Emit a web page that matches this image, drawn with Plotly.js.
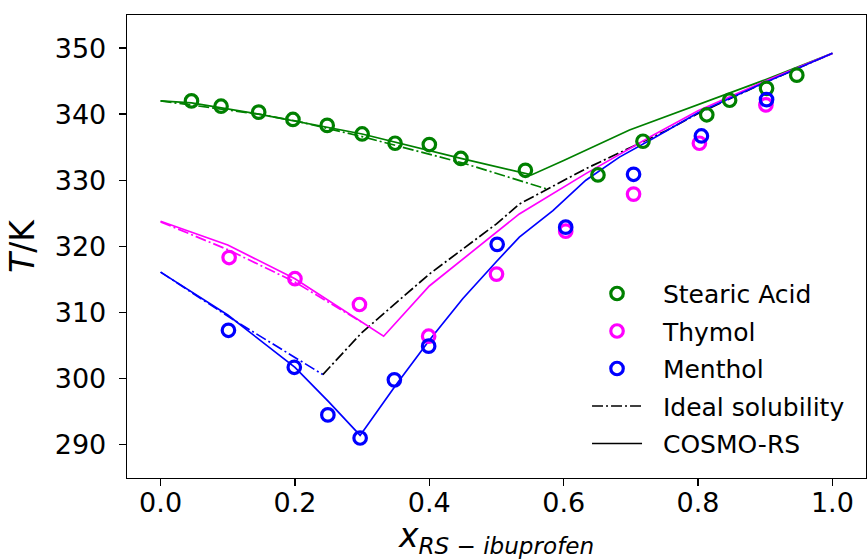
<!DOCTYPE html>
<html>
<head>
<meta charset="utf-8">
<script src="https://cdn.plot.ly/plotly-3.0.1.min.js"></script>
<style>html,body{margin:0;padding:0;background:#fff;}#chart{width:867px;height:559px;}</style>
</head>
<body>
<div id="chart"></div>
<script>
// Experimental data
const xStearic = [0.046,0.090,0.146,0.197,0.248,0.300,0.349,0.400,0.447,0.543,0.651,0.718,0.813,0.847,0.902,0.947];
const yStearic = [342.0,341.2,340.3,339.2,338.3,337.0,335.6,335.4,333.3,331.5,330.8,335.9,339.9,342.1,343.9,345.9];
const xThymol = [0.102,0.200,0.296,0.399,0.500,0.603,0.704,0.802,0.901];
const yThymol = [318.3,315.1,311.2,306.4,315.8,322.3,327.9,335.6,341.4];
const xMenthol = [0.101,0.199,0.249,0.297,0.348,0.399,0.501,0.603,0.704,0.805,0.902];
const yMenthol = [307.3,301.7,294.5,291.0,299.8,304.9,320.3,322.9,330.9,336.7,342.2];

// COSMO-RS curves
const xCosmoStearic = [0,0.046,0.146,0.300,0.447,0.543,0.552,0.600,0.698,0.900,1.0];
const yCosmoStearic = [342.0,341.7,340.0,337.0,333.3,331.1,330.8,333.0,337.6,345.2,349.2];
const xCosmoThymol = [0,0.100,0.200,0.300,0.332,0.400,0.500,0.534,0.633,0.733,0.800,0.900,1.0];
const yCosmoThymol = [323.8,320.2,315.1,308.5,306.4,314.0,322.2,324.9,331.0,336.8,340.5,345.0,349.2];
const xCosmoMenthol = [0,0.100,0.200,0.250,0.297,0.350,0.400,0.450,0.500,0.534,0.584,0.633,0.683,0.733,0.800,0.891,1.0];
const yCosmoMenthol = [316.1,309.6,301.7,296.5,291.4,299.0,305.8,312.1,317.7,321.4,325.4,330.0,333.5,336.3,340.2,344.4,349.2];

// Ideal solubility curves
const xIdealStearic = [0,0.146,0.200,0.300,0.450,0.574];
const yIdealStearic = [342.0,340.0,339.0,336.6,332.6,328.7];
const xIdealThymol = [0,0.100,0.200,0.303];
const yIdealThymol = [323.7,319.5,314.6,308.3];
const xIdealMenthol = [0,0.105,0.2415];
const yIdealMenthol = [316.1,309.1,300.6];
const xIdealIbu = [0.2415,0.300,0.400,0.500,0.534,0.633,0.7525,0.800,0.900,1.0];
const yIdealIbu = [300.6,307.0,315.8,323.4,326.4,331.75,337.5,340.1,344.8,349.2];

const xTicks = [0,0.2,0.4,0.6,0.8,1.0];
const yTicks = [290,300,310,320,330,340,350];

const GREEN = '#008000', MAGENTA = '#ff00ff', BLUE = '#0000ff', BLACK = '#000000';
const DASHDOT = '11px,3px,2px,3px';
const LW = 1.7;
const PAD = '\u00a0\u00a0';

function line(x, y, color, dash) {
  return {x: x, y: y, mode: 'lines', type: 'scatter', showlegend: false, hoverinfo: 'skip',
          line: {color: color, width: LW, dash: dash || 'solid'}};
}
function pts(x, y, color, name, grp) {
  return {x: x, y: y, mode: 'markers', type: 'scatter', name: PAD + name, legendgroup: grp,
          marker: {symbol: 'circle-open', size: 12.5, color: color, line: {color: color, width: 3.2}}};
}

const traces = [
  line(xIdealStearic, yIdealStearic, GREEN, DASHDOT),
  line(xIdealThymol, yIdealThymol, MAGENTA, DASHDOT),
  line(xIdealMenthol, yIdealMenthol, BLUE, DASHDOT),
  line(xIdealIbu, yIdealIbu, BLACK, DASHDOT),
  line(xCosmoStearic, yCosmoStearic, GREEN),
  line(xCosmoThymol, yCosmoThymol, MAGENTA),
  line(xCosmoMenthol, yCosmoMenthol, BLUE),
  pts(xStearic, yStearic, GREEN, 'Stearic Acid', 'a'),
  pts(xThymol, yThymol, MAGENTA, 'Thymol', 'b'),
  pts(xMenthol, yMenthol, BLUE, 'Menthol', 'c'),
  {x: [null], y: [null], mode: 'lines', type: 'scatter', name: PAD + 'Ideal solubility', legendgroup: 'd',
   line: {color: BLACK, width: LW, dash: DASHDOT}},
  {x: [null], y: [null], mode: 'lines', type: 'scatter', name: PAD + 'COSMO-RS', legendgroup: 'e',
   line: {color: BLACK, width: LW}}
];

const FONT = 'DejaVu Sans, sans-serif';
const layout = {
  width: 867, height: 559,
  margin: {l: 127, r: 1, t: 15, b: 81},
  paper_bgcolor: '#fff', plot_bgcolor: '#fff',
  font: {family: FONT, color: '#000'},
  showlegend: true,
  legend: {x: 0.6225, y: 0.4476, xanchor: 'left', yanchor: 'top', bgcolor: 'rgba(255,255,255,0)',
           font: {size: 25, family: FONT}, itemwidth: 50, traceorder: 'grouped', tracegroupgap: 2},
  xaxis: {range: [-0.05, 1.05], tickvals: xTicks, ticktext: xTicks.map(v => v.toFixed(1)),
          showgrid: false, zeroline: false, showline: true, mirror: true, linecolor: '#000', linewidth: 1.3,
          ticks: 'outside', ticklen: 7, tickwidth: 1.3, tickcolor: '#000',
          tickfont: {size: 27, family: FONT}, ticklabelstandoff: -7,
          title: {text: '<i>x</i><sub><i>RS − ibuprofen</i></sub>', font: {size: 33, family: FONT}, standoff: 17}},
  yaxis: {range: [284.95, 355.0], tickvals: yTicks, ticktext: yTicks.map(String),
          showgrid: false, zeroline: false, showline: true, mirror: true, linecolor: '#000', linewidth: 1.3,
          ticks: 'outside', ticklen: 7, tickwidth: 1.3, tickcolor: '#000',
          tickfont: {size: 27, family: FONT}, ticklabelstandoff: 7,
          title: {text: '<i>T</i>/K', font: {size: 33, family: FONT}, standoff: 10}}
};

Plotly.newPlot('chart', traces, layout, {displayModeBar: false, staticPlot: true});
</script>
</body>
</html>
